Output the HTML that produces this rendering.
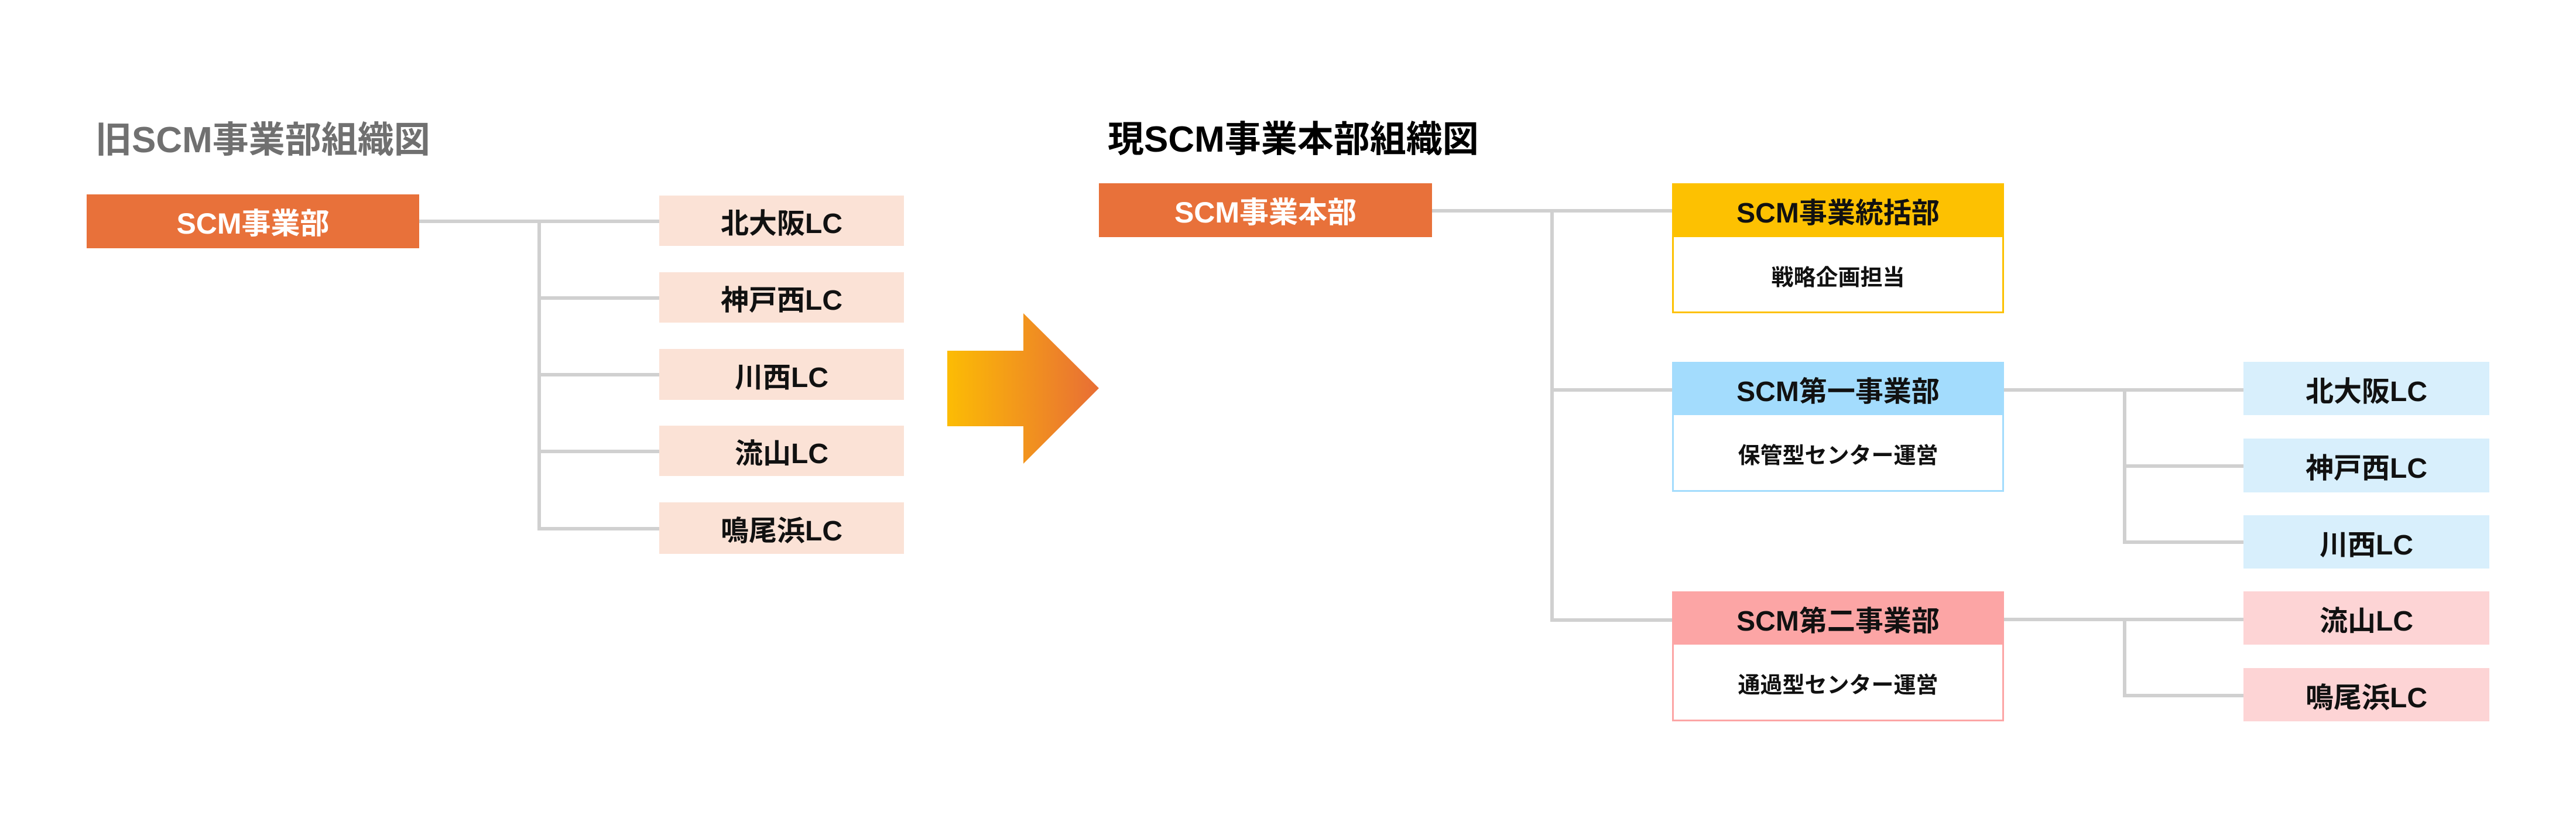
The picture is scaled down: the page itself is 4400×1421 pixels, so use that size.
<!DOCTYPE html>
<html><head><meta charset="utf-8"><style>
*{margin:0;padding:0;box-sizing:border-box}
body{width:4400px;height:1421px;background:#fff;position:relative;overflow:hidden;font-family:"Liberation Sans","Noto Sans CJK JP",sans-serif;font-weight:bold}
.a{position:absolute}
.b{position:absolute;display:flex;align-items:center;justify-content:center;font-size:48px;color:#111}
.l{position:absolute;background:#d0d0d0}
.h{height:6px}.v{width:6px}
</style></head><body>
<div class="a" style="left:163px;top:200px;font-size:62px;color:#707070;line-height:80px">旧SCM事業部組織図</div>
<div class="a" style="left:1892px;top:199px;font-size:62px;color:#000;line-height:80px">現SCM事業本部組織図</div>

<div class="b" style="left:148px;top:332px;width:568px;height:92px;background:#e8713a;color:#fff;font-size:50px">SCM事業部</div>
<div class="l h" style="left:716px;top:375px;width:412px"></div>
<div class="l v" style="left:918px;top:375px;height:531px"></div>
<div class="l h" style="left:918px;top:506px;width:210px"></div>
<div class="l h" style="left:918px;top:637px;width:210px"></div>
<div class="l h" style="left:918px;top:768px;width:210px"></div>
<div class="l h" style="left:918px;top:900px;width:210px"></div>
<div class="b" style="left:1126px;top:334px;width:418px;height:86px;background:#fbe2d6">北大阪LC</div>
<div class="b" style="left:1126px;top:465px;width:418px;height:86px;background:#fbe2d6">神戸西LC</div>
<div class="b" style="left:1126px;top:596px;width:418px;height:87px;background:#fbe2d6">川西LC</div>
<div class="b" style="left:1126px;top:727px;width:418px;height:86px;background:#fbe2d6">流山LC</div>
<div class="b" style="left:1126px;top:858px;width:418px;height:88px;background:#fbe2d6">鳴尾浜LC</div>

<svg class="a" style="left:1618px;top:535px" width="260" height="258">
<defs><linearGradient id="g" x1="0" x2="1"><stop offset="0" stop-color="#fcbc04"/><stop offset="1" stop-color="#e86e35"/></linearGradient></defs>
<polygon points="0,64 130,64 130,0 259,128 130,257 130,193 0,193" fill="url(#g)"/>
</svg>

<div class="b" style="left:1877px;top:313px;width:569px;height:92px;background:#e8713a;color:#fff;font-size:50px">SCM事業本部</div>
<div class="l h" style="left:2446px;top:357px;width:412px"></div>
<div class="l v" style="left:2648px;top:357px;height:705px"></div>
<div class="l h" style="left:2648px;top:663px;width:210px"></div>
<div class="l h" style="left:2648px;top:1056px;width:210px"></div>

<div class="a" style="left:2856px;top:313px;width:567px;height:222px;border:3px solid #fdc101;background:#fff"></div>
<div class="b" style="left:2856px;top:313px;width:567px;height:92px;background:#fdc101">SCM事業統括部</div>
<div class="b" style="left:2856px;top:405px;width:567px;height:130px;font-size:38px">戦略企画担当</div>

<div class="a" style="left:2856px;top:618px;width:567px;height:222px;border:3px solid #a3dcfd;background:#fff"></div>
<div class="b" style="left:2856px;top:618px;width:567px;height:91px;background:#a3dcfd">SCM第一事業部</div>
<div class="b" style="left:2856px;top:709px;width:567px;height:131px;font-size:38px">保管型センター運営</div>

<div class="a" style="left:2856px;top:1010px;width:567px;height:222px;border:3px solid #fca5a5;background:#fff"></div>
<div class="b" style="left:2856px;top:1010px;width:567px;height:91px;background:#fca5a5">SCM第二事業部</div>
<div class="b" style="left:2856px;top:1101px;width:567px;height:131px;font-size:38px">通過型センター運営</div>

<div class="l h" style="left:3423px;top:663px;width:411px"></div>
<div class="l v" style="left:3626px;top:663px;height:266px"></div>
<div class="l h" style="left:3626px;top:793px;width:208px"></div>
<div class="l h" style="left:3626px;top:923px;width:208px"></div>
<div class="l h" style="left:3423px;top:1055px;width:411px"></div>
<div class="l v" style="left:3626px;top:1055px;height:136px"></div>
<div class="l h" style="left:3626px;top:1185px;width:208px"></div>

<div class="b" style="left:3832px;top:618px;width:420px;height:91px;background:#d8effc">北大阪LC</div>
<div class="b" style="left:3832px;top:749px;width:420px;height:92px;background:#d8effc">神戸西LC</div>
<div class="b" style="left:3832px;top:880px;width:420px;height:91px;background:#d8effc">川西LC</div>
<div class="b" style="left:3832px;top:1010px;width:420px;height:91px;background:#fdd4d5">流山LC</div>
<div class="b" style="left:3832px;top:1141px;width:420px;height:91px;background:#fdd4d5">鳴尾浜LC</div>
</body></html>
